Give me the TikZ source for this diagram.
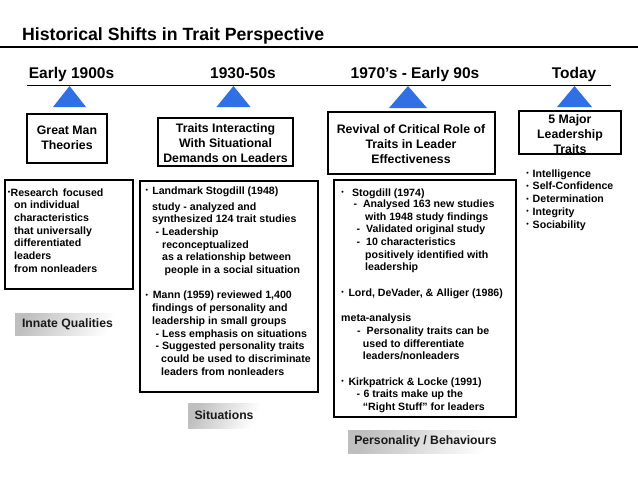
\documentclass[tikz,border=0pt]{standalone}
\usepackage{fontspec}
\setmainfont{Liberation Sans}
\definecolor{triblue}{RGB}{48,112,228}
\newcommand{\firstrule}[1]{\rule{0pt}{#1}}
\newcommand{\bul}{\makebox[2.9pt][c]{\raisebox{1.6pt}{\fontsize{7}{7}\selectfont•}}}
\begin{document}
\begin{tikzpicture}[x=1pt,y=-1pt,
  body/.style={anchor=north west, inner sep=0pt, align=left, font=\fontsize{10.6}{12.7}\selectfont\bfseries},
  hdr/.style={anchor=base, inner sep=0pt, font=\fontsize{15.5}{18}\selectfont\bfseries},
  boxtxt/.style={anchor=north, inner sep=0pt, align=center, font=\fontsize{12.3}{15}\selectfont\bfseries},
  tri/.style={fill=triblue, draw=none},
  frame/.style={draw=black, line width=1.2pt},
  heavyframe/.style={draw=black, line width=1.9pt},
  tag/.style={inner sep=0pt, left color=black!25, right color=white, shading angle=65,
    font=\fontsize{12.2}{14}\selectfont\bfseries, text=black!90}
]
\useasboundingbox (0,0) rectangle (638,479);
\fill[white] (0,0) rectangle (638,479);

% title and rules
\node[anchor=base west, inner sep=0pt, font=\fontsize{17.7}{20}\selectfont\bfseries] (title) at (22,41) {Historical Shifts in Trait Perspective};
\draw[line width=1.8pt] (0,47) -- (638,47);
\draw[line width=1pt] (27,85.5) -- (611,85.5);

% era headings
\node[hdr] (h1) at (71.5,78) {Early 1900s};
\node[hdr] (h2) at (243,78) {1930-50s};
\node[hdr] (h3) at (415,78) {1970’s - Early 90s};
\node[hdr] (h4) at (574,78) {Today};

% triangles
\fill[tri] (69.5,86) -- (86,107) -- (53,107) -- cycle;
\fill[tri] (233.5,86) -- (250.5,107) -- (216.5,107) -- cycle;
\fill[tri] (408,86) -- (427,108) -- (389,108) -- cycle;
\fill[tri] (574.5,86) -- (592,107) -- (557,107) -- cycle;

% heading boxes (baseline of first line = y + 11.5)
\draw[frame, line width=1.5pt] (27,114) rectangle (107,163);
\node[boxtxt] (gm) at (67,123) {\firstrule{11.5pt}Great Man\\Theories};

\draw[frame, line width=1.6pt] (158,118) rectangle (293,166);
\node[boxtxt] (ti) at (225.5,121) {\firstrule{11.5pt}Traits Interacting\\With Situational\\Demands on Leaders};

\draw[heavyframe] (328,112) rectangle (495,174);
\node[boxtxt] (rv) at (411,122) {\firstrule{11.5pt}Revival of Critical Role of\\Traits in Leader\\Effectiveness};

\draw[heavyframe] (519,111) rectangle (621,154);
\node[boxtxt] (fm) at (570,112) {\firstrule{11.5pt}5 Major\\Leadership\\Traits};

% content boxes (baseline of first line = y + 10)
\draw[frame] (5,180) rectangle (133,289);
\node[body] (rb) at (7,185.8) {\firstrule{10pt}\hspace*{0.5pt}\bul Research\hspace{4.5pt}focused\\
\hspace*{7pt}on individual\\
\hspace*{7pt}characteristics\\
\hspace*{7pt}that universally\\
\hspace*{7pt}differentiated\\
\hspace*{7pt}leaders\\
\hspace*{7pt}from nonleaders};

\draw[frame] (140,181) rectangle (318,392);
\node[body] (lb) at (144,183.8) {\firstrule{10pt}\hspace*{1.2pt}\bul\hspace{4pt}Landmark Stogdill (1948)\\[3.3pt]
\hspace*{8pt}study - analyzed and\\
\hspace*{8pt}synthesized 124 trait studies\\
\hspace*{11.5pt}-\hspace{2.8pt}Leadership\\
\hspace*{18pt}reconceptualized\\
\hspace*{18pt}as a relationship between\\
\hspace*{20.5pt}people in a social situation\\[12.7pt]
\hspace*{1.2pt}\bul\hspace{4.5pt}Mann (1959) reviewed 1,400\\
\hspace*{8pt}findings of personality and\\
\hspace*{8pt}leadership in small groups\\
\hspace*{11.5pt}-\hspace{2.8pt}Less emphasis on situations\\
\hspace*{11.5pt}-\hspace{2.8pt}Suggested personality traits\\
\hspace*{17pt}could be used to discriminate\\
\hspace*{17pt}leaders from nonleaders};

\draw[frame] (334,180) rectangle (516,417);
\node[body] (sb) at (340,185.8) {\firstrule{10pt}\hspace*{1pt}\bul\hspace{8pt}Stogdill (1974)\\[-1.4pt]
\hspace*{13.5pt}-\hspace{5.8pt}Analysed 163 new studies\\
\hspace*{25pt}with 1948 study findings\\
\hspace*{16.5pt}-\hspace{6pt}Validated original study\\
\hspace*{16.5pt}-\hspace{6pt}10 characteristics\\
\hspace*{25pt}positively identified with\\
\hspace*{25pt}leadership\\[12.7pt]
\hspace*{1pt}\bul\hspace{4.4pt}Lord, DeVader, \& Alliger (1986)\\[12.7pt]
\hspace*{1pt}meta-analysis\\
\hspace*{17pt}-\hspace{6pt}Personality traits can be\\
\hspace*{22.7pt}used to differentiate\\
\hspace*{22.7pt}leaders/nonleaders\\[12.7pt]
\hspace*{1pt}\bul\hspace{4.4pt}Kirkpatrick \& Locke (1991)\\
\hspace*{16.5pt}-\hspace{3.3pt}6 traits make up the\\
\hspace*{22.7pt}“Right Stuff” for leaders};

% five traits list
\node[body, font=\fontsize{10.6}{12.8}\selectfont\bfseries] (tl) at (526,166.8) {\firstrule{10pt}\bul\hspace{3.6pt}Intelligence\\
\bul\hspace{3.6pt}Self-Confidence\\
\bul\hspace{3.6pt}Determination\\
\bul\hspace{3.6pt}Integrity\\
\bul\hspace{3.6pt}Sociability};

% shaded tags
\node[tag, minimum width=105pt, minimum height=22pt] (iq) at (67.5,324) {Innate Qualities};
\node[tag, minimum width=72pt, minimum height=25pt] (si) at (224,415.5) {Situations};
\node[tag, minimum width=155pt, minimum height=23pt] (pb) at (425.5,441.5) {Personality / Behaviours};
\end{tikzpicture}
\end{document}
